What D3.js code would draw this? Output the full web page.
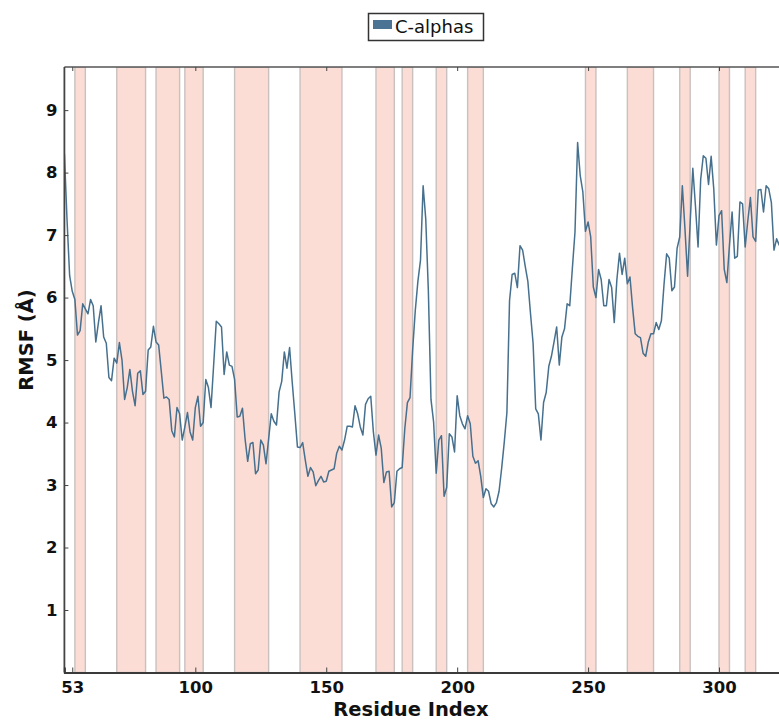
<!DOCTYPE html>
<html>
<head>
<meta charset="utf-8">
<script src="https://cdn.jsdelivr.net/npm/d3@7"></script>
<style>
  html, body { margin: 0; padding: 0; background: #ffffff; overflow: hidden; }
  svg { display: block; }
</style>
</head>
<body>
<svg id="chart" width="779" height="720"></svg>
<script>
// ---- data ----
const seriesName = "C-alphas";
const firstResidue = 50;
const rmsfValues = [
  8.30, 7.25, 6.35, 6.10, 5.97, 5.40, 5.47, 5.90, 5.82, 5.74,
  5.97, 5.87, 5.29, 5.60, 5.87, 5.37, 5.27, 4.72, 4.67, 5.03,
  4.95, 5.28, 5.00, 4.37, 4.56, 4.85, 4.50, 4.27, 4.79, 4.83,
  4.45, 4.50, 5.16, 5.21, 5.54, 5.29, 5.24, 4.82, 4.39, 4.41,
  4.37, 3.87, 3.77, 4.24, 4.14, 3.72, 3.93, 4.16, 3.85, 3.72,
  4.24, 4.42, 3.94, 4.00, 4.69, 4.56, 4.24, 4.92, 5.62, 5.58,
  5.53, 4.77, 5.13, 4.92, 4.90, 4.69, 4.09, 4.10, 4.23, 3.74,
  3.38, 3.66, 3.68, 3.18, 3.24, 3.72, 3.64, 3.34, 3.74, 4.14,
  4.02, 3.96, 4.49, 4.66, 5.13, 4.87, 5.20, 4.65, 4.14, 3.61,
  3.60, 3.68, 3.40, 3.14, 3.28, 3.21, 2.99, 3.07, 3.14, 3.05,
  3.06, 3.22, 3.24, 3.26, 3.51, 3.62, 3.56, 3.72, 3.94, 3.94,
  3.93, 4.27, 4.14, 3.93, 3.80, 4.29, 4.38, 4.42, 3.85, 3.48,
  3.80, 3.59, 3.04, 3.21, 3.22, 2.65, 2.72, 3.22, 3.26, 3.28,
  3.90, 4.32, 4.40, 5.16, 5.79, 6.26, 6.60, 7.79, 7.26, 6.11,
  4.37, 4.01, 3.19, 3.72, 3.79, 2.82, 2.96, 3.82, 3.77, 3.53,
  4.43, 4.11, 3.98, 3.90, 4.11, 3.98, 3.46, 3.35, 3.39, 3.14,
  2.80, 2.94, 2.90, 2.70, 2.65, 2.72, 2.90, 3.27, 3.69, 4.16,
  5.95, 6.37, 6.39, 6.16, 6.83, 6.76, 6.50, 6.26, 5.75, 5.27,
  4.22, 4.14, 3.72, 4.32, 4.48, 4.90, 5.06, 5.29, 5.53, 4.92,
  5.37, 5.50, 5.90, 5.87, 6.47, 7.05, 8.48, 7.95, 7.69, 7.06,
  7.21, 6.97, 6.17, 6.00, 6.45, 6.29, 5.87, 5.87, 6.29, 6.16,
  5.60, 6.29, 6.71, 6.37, 6.63, 6.22, 6.33, 5.84, 5.42, 5.38,
  5.36, 5.11, 5.06, 5.29, 5.42, 5.42, 5.60, 5.49, 5.63, 6.21,
  6.70, 6.63, 6.11, 6.17, 6.79, 6.97, 7.79, 7.10, 6.34, 7.21,
  8.07, 7.47, 6.81, 7.89, 8.27, 8.23, 7.81, 8.26, 7.74, 6.84,
  7.31, 7.39, 6.45, 6.24, 6.84, 7.37, 6.63, 6.66, 7.53, 7.50,
  6.81, 7.23, 7.60, 6.97, 6.90, 7.72, 7.73, 7.37, 7.79, 7.74,
  7.52, 6.76, 6.94, 6.84, 6.85
];
// shaded residue ranges (secondary-structure spans)
const spanStarts = [54, 70, 85, 96, 115, 140, 169, 179, 192, 204, 249, 265, 285, 300, 310];
const spanEnds   = [58, 81, 94, 103, 128, 156, 176, 183, 196, 210, 253, 275, 289, 304, 314];
const xTickValues = [53, 100, 150, 200, 250, 300];
const yTickValues = [1, 2, 3, 4, 5, 6, 7, 8, 9];
const xDomain = [50, 327];
const yDomain = [0, 9.69];
const xLabel = "Residue Index";
const yLabel = "RMSF (Å)";

// ---- layout ----
const svg = d3.select("#chart");
const pLeft = 64.4, pRight = 789.7, pTop = 67, pBottom = 672.5;
const lineColor = "#46708e";
const font = "DejaVu Sans, Verdana, sans-serif";

const x = d3.scaleLinear().domain(xDomain).range([pLeft, pRight]);
const y = d3.scaleLinear().domain(yDomain).range([pBottom, pTop]);

const points = rmsfValues.map((v, i) => ({ r: firstResidue + i, v }));
const spans = spanStarts.map((s, i) => ({ s, e: spanEnds[i] }));

svg.append("defs").append("clipPath").attr("id", "plotclip")
  .append("rect").attr("x", pLeft).attr("y", pTop)
  .attr("width", pRight - pLeft).attr("height", pBottom - pTop);

const plot = svg.append("g").attr("clip-path", "url(#plotclip)");

plot.selectAll("rect.span").data(spans).enter().append("rect")
  .attr("class", "span")
  .attr("x", d => x(d.s))
  .attr("y", pTop)
  .attr("width", d => x(d.e) - x(d.s))
  .attr("height", pBottom - pTop)
  .attr("fill", "#fbddd6")
  .attr("stroke", "#c9c1bf")
  .attr("stroke-width", 1.4);

plot.append("path")
  .datum(points)
  .attr("fill", "none")
  .attr("stroke", lineColor)
  .attr("stroke-width", 1.5)
  .attr("stroke-linejoin", "round")
  .attr("d", d3.line().x(d => x(d.r)).y(d => y(d.v)));

// frame
const frameColor = "#3a3a3a";
svg.append("line").attr("x1", pLeft).attr("x2", pRight).attr("y1", pTop).attr("y2", pTop)
  .attr("stroke", "#555").attr("stroke-width", 1.5);
svg.append("line").attr("x1", pLeft).attr("x2", pLeft).attr("y1", pTop).attr("y2", pBottom)
  .attr("stroke", "#444").attr("stroke-width", 1.8);

// bottom axis (ticks inward)
const xAxis = d3.axisBottom(x).tickValues(xTickValues).tickSize(-5).tickPadding(9)
  .tickFormat(d3.format("d"));
const gx = svg.append("g").attr("transform", `translate(0,${pBottom})`).call(xAxis);
gx.select(".domain").attr("stroke", frameColor).attr("stroke-width", 2);
gx.selectAll(".tick line").attr("stroke", "#444").attr("stroke-width", 1);
gx.selectAll(".tick text").attr("font-family", font).attr("font-weight", "bold")
  .attr("font-size", 16.5).attr("fill", "#111");

// top ticks (inward)
const gxt = svg.append("g").attr("transform", `translate(0,${pTop})`)
  .call(d3.axisTop(x).tickValues(xTickValues).tickSize(-4).tickFormat(""));
gxt.select(".domain").remove();
gxt.selectAll(".tick line").attr("stroke", "#444");

// left axis (ticks inward)
const yAxis = d3.axisLeft(y).tickValues(yTickValues).tickSize(-4).tickPadding(7)
  .tickFormat(d3.format("d"));
const gy = svg.append("g").attr("transform", `translate(${pLeft},0)`).call(yAxis);
gy.select(".domain").remove();
gy.selectAll(".tick line").attr("stroke", "#444");
gy.selectAll(".tick text").attr("font-family", font).attr("font-weight", "bold")
  .attr("font-size", 16.5).attr("fill", "#111");

// axis labels
svg.append("text").attr("x", 411).attr("y", 716)
  .attr("text-anchor", "middle").attr("font-family", font).attr("font-weight", "bold")
  .attr("font-size", 19.5).attr("fill", "#111").text(xLabel);
svg.append("text").attr("transform", "translate(33,340) rotate(-90)")
  .attr("text-anchor", "middle").attr("font-family", font).attr("font-weight", "bold")
  .attr("font-size", 19.5).attr("fill", "#111").text(yLabel);

// legend
const lg = svg.append("g");
lg.append("rect").attr("x", 368.5).attr("y", 13.5).attr("width", 115).attr("height", 27)
  .attr("fill", "#fff").attr("stroke", "#333").attr("stroke-width", 1.5);
lg.append("rect").attr("x", 373).attr("y", 20).attr("width", 19).attr("height", 9)
  .attr("fill", "#4b7393");
lg.append("text").attr("x", 395).attr("y", 33).attr("font-family", font)
  .attr("font-size", 18).attr("fill", "#111").text(seriesName);
</script>
</body>
</html>
